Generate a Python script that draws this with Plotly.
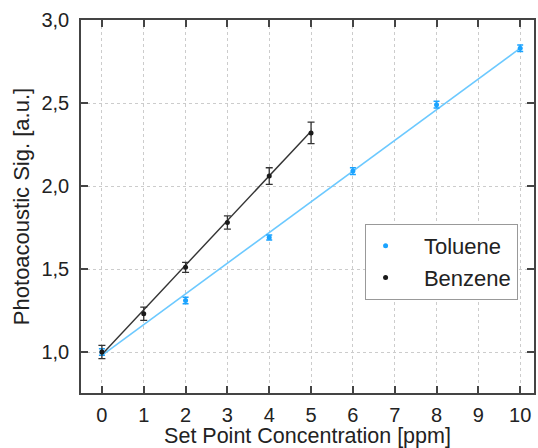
import plotly.graph_objects as go

conc_tol = [0, 2, 4, 6, 8, 10]
sig_tol = [1.00, 1.31, 1.69, 2.09, 2.49, 2.83]
err_tol = [0.02, 0.02, 0.015, 0.02, 0.02, 0.02]

conc_ben = [0, 1, 2, 3, 4, 5]
sig_ben = [1.00, 1.23, 1.51, 1.78, 2.06, 2.32]
err_ben = [0.04, 0.04, 0.03, 0.04, 0.05, 0.065]

fit_tol_x = [0, 10]
fit_tol_y = [0.98, 2.83]
fit_ben_x = [0, 5]
fit_ben_y = [0.985, 2.33]

xticks = list(range(0, 11))
yticks = [1.0, 1.5, 2.0, 2.5, 3.0]

tol_col = "#1aa3ff"
tol_line = "#6cc9ff"
ben_col = "#1a1a1a"
FONT = "Liberation Sans, Arial, sans-serif"

fig = go.Figure()
fig.add_trace(go.Scatter(x=fit_tol_x, y=fit_tol_y, mode="lines",
                         line=dict(color=tol_line, width=1.6), showlegend=False))
fig.add_trace(go.Scatter(x=fit_ben_x, y=fit_ben_y, mode="lines",
                         line=dict(color="#333333", width=1.4), showlegend=False))
fig.add_trace(go.Scatter(x=conc_tol, y=sig_tol, mode="markers", name="\u00a0\u00a0\u00a0Toluene",
                         marker=dict(color=tol_col, size=5),
                         error_y=dict(type="data", array=err_tol, color=tol_col,
                                      thickness=1.5, width=3)))
fig.add_trace(go.Scatter(x=conc_ben, y=sig_ben, mode="markers", name="\u00a0\u00a0\u00a0Benzene",
                         marker=dict(color=ben_col, size=5),
                         error_y=dict(type="data", array=err_ben, color="#333333",
                                      thickness=1.3, width=3.5)))

xr = [-0.5, 10.33]
yr = [0.753, 3.0]
axis_common = dict(showgrid=True, gridcolor="#cccccc", griddash="dot", gridwidth=1,
                   zeroline=False, showline=True, linecolor="#444444", linewidth=1.5,
                   mirror="ticks", ticks="inside", ticklen=7, tickwidth=1.5,
                   tickcolor="#444444", tickfont=dict(size=20))
fig.update_layout(
    width=538, height=448,
    margin=dict(l=81, r=2, t=20, b=55),
    paper_bgcolor="white", plot_bgcolor="white",
    separators=",.",
    font=dict(family=FONT, size=20, color="#222222"),
    xaxis=dict(range=xr, tickvals=xticks, **axis_common, ticklabelstandoff=3,
               title=dict(text="Set Point Concentration [ppm]", font=dict(size=21.5), standoff=5)),
    yaxis=dict(range=yr, tickvals=yticks, tickformat=".1f", **axis_common, ticklabelstandoff=6,
               title=dict(text="Photoacoustic Sig. [a.u.]", font=dict(size=22), standoff=6)),
    legend=dict(x=0.626, y=0.453, xanchor="left", yanchor="top",
                bgcolor="white", bordercolor="#999999", borderwidth=1,
                font=dict(size=22), tracegroupgap=0),
)
fig.write_html("out.html")
